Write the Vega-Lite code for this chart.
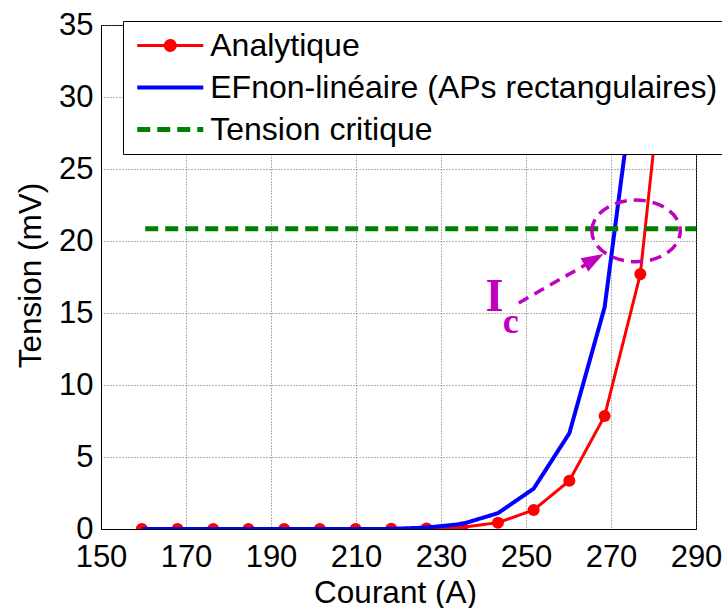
{
  "$schema": "https://vega.github.io/schema/vega-lite/v6.json",
  "width": 595,
  "height": 504,
  "autosize": {"type": "none"},
  "padding": {"left": 101, "top": 25, "right": 26, "bottom": 79},
  "background": "white",
  "datasets": {
    "courbes": [
      {"courant": 159.6, "tension": 0, "serie": "Analytique"},
      {"courant": 168.0, "tension": 0, "serie": "Analytique"},
      {"courant": 176.4, "tension": 0, "serie": "Analytique"},
      {"courant": 184.7, "tension": 0, "serie": "Analytique"},
      {"courant": 193.1, "tension": 0, "serie": "Analytique"},
      {"courant": 201.5, "tension": 0, "serie": "Analytique"},
      {"courant": 209.9, "tension": 0, "serie": "Analytique"},
      {"courant": 218.3, "tension": 0.01, "serie": "Analytique"},
      {"courant": 226.6, "tension": 0.04, "serie": "Analytique"},
      {"courant": 235.0, "tension": 0.12, "serie": "Analytique"},
      {"courant": 243.4, "tension": 0.44, "serie": "Analytique"},
      {"courant": 251.8, "tension": 1.32, "serie": "Analytique"},
      {"courant": 260.2, "tension": 3.35, "serie": "Analytique"},
      {"courant": 268.5, "tension": 7.85, "serie": "Analytique"},
      {"courant": 276.9, "tension": 17.7, "serie": "Analytique"},
      {"courant": 285.3, "tension": 41.0, "serie": "Analytique"},
      {"courant": 159.6, "tension": 0, "serie": "EFnon-linéaire (APs rectangulaires)"},
      {"courant": 168.0, "tension": 0, "serie": "EFnon-linéaire (APs rectangulaires)"},
      {"courant": 176.4, "tension": 0, "serie": "EFnon-linéaire (APs rectangulaires)"},
      {"courant": 184.7, "tension": 0, "serie": "EFnon-linéaire (APs rectangulaires)"},
      {"courant": 193.1, "tension": 0, "serie": "EFnon-linéaire (APs rectangulaires)"},
      {"courant": 201.5, "tension": 0, "serie": "EFnon-linéaire (APs rectangulaires)"},
      {"courant": 209.9, "tension": 0, "serie": "EFnon-linéaire (APs rectangulaires)"},
      {"courant": 218.3, "tension": 0.01, "serie": "EFnon-linéaire (APs rectangulaires)"},
      {"courant": 226.6, "tension": 0.1, "serie": "EFnon-linéaire (APs rectangulaires)"},
      {"courant": 235.0, "tension": 0.35, "serie": "EFnon-linéaire (APs rectangulaires)"},
      {"courant": 243.4, "tension": 1.1, "serie": "EFnon-linéaire (APs rectangulaires)"},
      {"courant": 251.8, "tension": 2.8, "serie": "EFnon-linéaire (APs rectangulaires)"},
      {"courant": 260.2, "tension": 6.65, "serie": "EFnon-linéaire (APs rectangulaires)"},
      {"courant": 268.5, "tension": 15.4, "serie": "EFnon-linéaire (APs rectangulaires)"},
      {"courant": 276.9, "tension": 34.4, "serie": "EFnon-linéaire (APs rectangulaires)"},
      {"courant": 285.3, "tension": 75.0, "serie": "EFnon-linéaire (APs rectangulaires)"},
      {"courant": 160.4, "tension": 20.85, "serie": "Tension critique"},
      {"courant": 290.0, "tension": 20.85, "serie": "Tension critique"}
    ],
    "ellipse": [{"courant": 275.9, "tension": 20.7}],
    "fleche": [
      {"courant": 248.3, "tension": 15.7},
      {"courant": 264.6, "tension": 18.45}
    ],
    "pointe": [{"courant": 266.0, "tension": 18.72}],
    "labelI": [{"courant": 242.6, "tension": 15.14, "txt": "I"}],
    "labelC": [{"courant": 246.4, "tension": 13.6, "txt": "c"}]
  },
  "encoding": {
    "x": {
      "field": "courant", "type": "quantitative",
      "scale": {"domain": [150, 290], "nice": false, "zero": false},
      "axis": {
        "title": "Courant (A)",
        "values": [150, 170, 190, 210, 230, 250, 270, 290],
        "labelBaseline": "alphabetic",
        "labelPadding": 37,
        "titleX": 294,
        "titleY": 73,
        "titleBaseline": "alphabetic"
      }
    },
    "y": {
      "field": "tension", "type": "quantitative",
      "scale": {"domain": [0, 35], "nice": false},
      "axis": {
        "title": "Tension (mV)",
        "values": [0, 5, 10, 15, 20, 25, 30, 35],
        "labelPadding": 8,
        "titleX": -61,
        "titleY": 250,
        "titleAngle": -90,
        "titleBaseline": "alphabetic",
        "titleAlign": "center"
      }
    }
  },
  "layer": [
    {
      "data": {"name": "courbes"},
      "transform": [{"filter": "datum.serie === 'Analytique'"}],
      "mark": {"type": "line", "clip": true},
      "encoding": {
        "color": {
          "field": "serie", "type": "nominal",
          "scale": {
            "domain": ["Analytique", "EFnon-linéaire (APs rectangulaires)", "Tension critique"],
            "range": ["#FF0000", "#0000FF", "#008000"]
          },
          "legend": {"title": null}
        },
        "strokeDash": {
          "field": "serie", "type": "nominal",
          "scale": {
            "domain": ["Analytique", "EFnon-linéaire (APs rectangulaires)", "Tension critique"],
            "range": [[1, 0], [1, 0], [13, 7]]
          },
          "legend": {"title": null}
        },
        "strokeWidth": {
          "field": "serie", "type": "ordinal",
          "scale": {
            "domain": ["Analytique", "EFnon-linéaire (APs rectangulaires)", "Tension critique"],
            "range": [3, 5, 4]
          },
          "legend": {"title": null}
        }
      }
    },
    {
      "data": {"name": "courbes"},
      "transform": [{"filter": "datum.serie === 'Analytique'"}],
      "mark": {"type": "point", "filled": true, "size": 145, "color": "#FF0000", "opacity": 1, "clip": true}
    },
    {
      "data": {"name": "courbes"},
      "transform": [{"filter": "datum.serie !== 'Analytique'"}],
      "mark": {"type": "line", "clip": true},
      "encoding": {
        "color": {"field": "serie", "type": "nominal"},
        "strokeDash": {"field": "serie", "type": "nominal"},
        "strokeWidth": {"field": "serie", "type": "ordinal"}
      }
    },
    {
      "data": {"name": "courbes"},
      "transform": [{"filter": "false"}],
      "mark": {"type": "point", "filled": false, "size": 484},
      "encoding": {
        "color": {"field": "serie", "type": "nominal"},
        "shape": {
          "field": "serie", "type": "nominal",
          "scale": {
            "domain": ["Analytique", "EFnon-linéaire (APs rectangulaires)", "Tension critique"],
            "range": [
              "M-3,0L3,0M-0.45,0A0.45,0.45,0,1,1,0.45,0A0.45,0.45,0,1,1,-0.45,0M-0.3,0A0.3,0.3,0,1,1,0.3,0A0.3,0.3,0,1,1,-0.3,0M-0.15,0A0.15,0.15,0,1,1,0.15,0A0.15,0.15,0,1,1,-0.15,0",
              "M-3,0L3,0",
              "M-3,0L3,0"
            ]
          },
          "legend": {"title": null}
        }
      }
    },
    {
      "data": {"name": "ellipse"},
      "mark": {
        "type": "point",
        "shape": "M-1,0A1,0.697,0,1,1,1,0A1,0.697,0,1,1,-1,0Z",
        "size": 7815,
        "filled": false,
        "fill": "transparent",
        "stroke": "#BF00BF",
        "strokeWidth": 3.5,
        "strokeDash": [12, 7],
        "opacity": 1
      }
    },
    {
      "data": {"name": "fleche"},
      "mark": {"type": "line", "color": "#BF00BF", "strokeWidth": 3.5, "strokeDash": [11, 7]}
    },
    {
      "data": {"name": "pointe"},
      "mark": {
        "type": "point",
        "shape": "M1,0L-1,-0.7L-1,0.7Z",
        "size": 484,
        "angle": 330,
        "filled": true,
        "color": "#BF00BF",
        "opacity": 1
      }
    },
    {
      "data": {"name": "labelI"},
      "mark": {"type": "text", "font": "Liberation Serif", "fontWeight": "bold", "fontSize": 46, "color": "#BF00BF", "align": "center", "baseline": "alphabetic"},
      "encoding": {"text": {"field": "txt"}}
    },
    {
      "data": {"name": "labelC"},
      "mark": {"type": "text", "font": "Liberation Serif", "fontWeight": "bold", "fontSize": 36, "color": "#BF00BF", "align": "center", "baseline": "alphabetic"},
      "encoding": {"text": {"field": "txt"}}
    }
  ],
  "config": {
    "view": {"stroke": "#000000", "strokeWidth": 1},
    "legend": {
      "orient": "none",
      "legendX": 22,
      "legendY": -4,
      "fillColor": "white",
      "strokeColor": "#000000",
      "padding": 8.5,
      "symbolOffset": 22.75,
      "symbolSize": 484,
      "symbolOpacity": 1,
      "labelFont": "Liberation Sans",
      "labelFontSize": 32,
      "labelColor": "#000000",
      "labelOffset": 24,
      "labelLimit": 0,
      "rowPadding": 10
    },
    "axis": {
      "labelFont": "Liberation Sans",
      "labelFontSize": 31,
      "labelColor": "#000000",
      "titleFont": "Liberation Sans",
      "titleFontSize": 31.5,
      "titleFontWeight": "normal",
      "titleColor": "#000000",
      "domainColor": "#000000",
      "domainWidth": 1,
      "ticks": false,
      "tickSize": 0,
      "grid": true,
      "gridColor": "#666666",
      "gridDash": [1, 2],
      "gridWidth": 1,
      "gridOpacity": 1,
      "labelFlush": false,
      "labelOverlap": false
    }
  }
}
